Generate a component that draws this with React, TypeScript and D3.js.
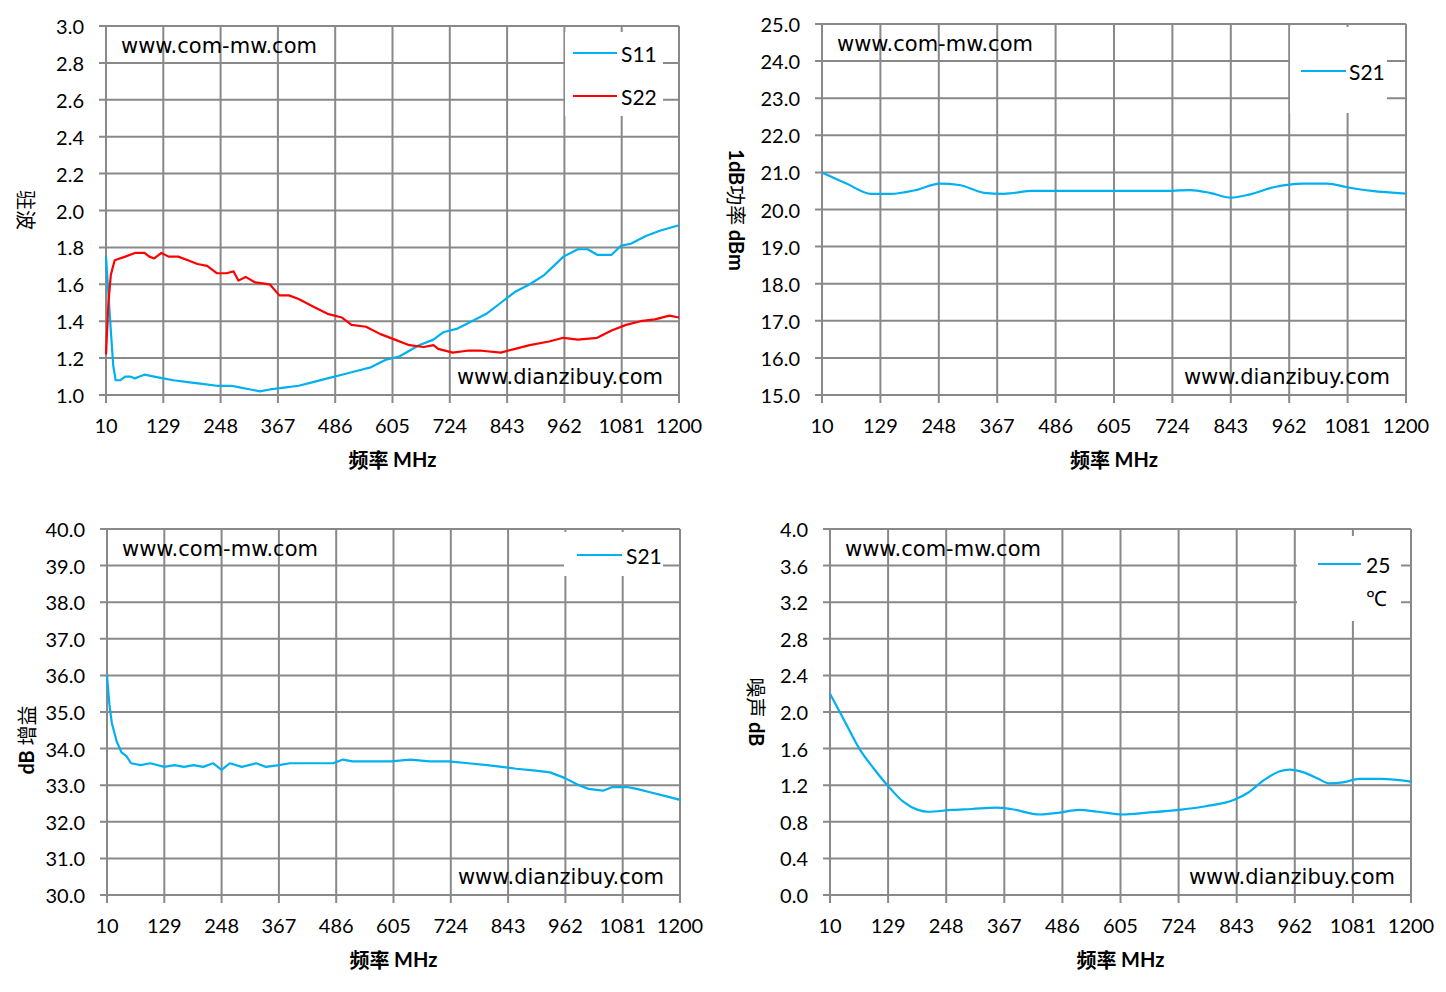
import React from "react";
import * as d3 from "d3";

// frequency axis (MHz)
const freqTicks = [10, 129, 248, 367, 486, 605, 724, 843, 962, 1081, 1200];

// VSWR
const s11Vswr: [number, number][] = [
  [10, 1.75], [15, 1.55], [20, 1.35], [25, 1.16], [30, 1.08], [40, 1.08], [50, 1.1], [60, 1.1],
  [70, 1.09], [80, 1.1], [90, 1.11], [110, 1.1], [129, 1.09], [150, 1.08], [180, 1.07],
  [210, 1.06], [240, 1.05], [270, 1.05], [290, 1.04], [310, 1.03], [330, 1.02], [350, 1.03],
  [380, 1.04], [410, 1.05], [440, 1.07], [470, 1.09], [500, 1.11], [530, 1.13], [560, 1.15],
  [590, 1.19], [620, 1.21], [640, 1.24], [660, 1.27], [690, 1.3], [710, 1.34], [740, 1.36],
  [770, 1.4], [800, 1.44], [830, 1.5], [860, 1.56], [890, 1.6], [920, 1.65], [940, 1.7],
  [960, 1.75], [990, 1.79], [1010, 1.79], [1030, 1.76], [1060, 1.76], [1080, 1.81],
  [1100, 1.82], [1130, 1.86], [1160, 1.89], [1200, 1.92],
];
const s22Vswr: [number, number][] = [
  [10, 1.22], [15, 1.5], [20, 1.65], [28, 1.73], [50, 1.75], [70, 1.77], [90, 1.77],
  [100, 1.75], [110, 1.74], [125, 1.77], [140, 1.75], [160, 1.75], [180, 1.73], [200, 1.71],
  [220, 1.7], [240, 1.66], [260, 1.66], [275, 1.67], [285, 1.62], [300, 1.64], [320, 1.61],
  [350, 1.6], [370, 1.54], [390, 1.54], [410, 1.52], [440, 1.48], [470, 1.44], [500, 1.42],
  [520, 1.38], [550, 1.37], [580, 1.33], [610, 1.3], [640, 1.27], [670, 1.26], [690, 1.27],
  [700, 1.25], [730, 1.23], [760, 1.24], [790, 1.24], [830, 1.23], [860, 1.25], [890, 1.27],
  [930, 1.29], [960, 1.31], [990, 1.3], [1030, 1.31], [1060, 1.35], [1090, 1.38],
  [1120, 1.4], [1150, 1.41], [1180, 1.43], [1200, 1.42],
];

// 1dB compression power (dBm)
const p1dB: [number, number][] = [
  [10, 21.0], [60, 20.7], [110, 20.42], [150, 20.42], [200, 20.52], [250, 20.7], [290, 20.66],
  [340, 20.45], [380, 20.42], [440, 20.5], [500, 20.5], [600, 20.5], [700, 20.5], [760, 20.52],
  [800, 20.45], [843, 20.32], [880, 20.4], [930, 20.6], [990, 20.7], [1040, 20.7],
  [1080, 20.6], [1130, 20.5], [1200, 20.43],
];

// gain S21 (dB)
const gainS21: [number, number][] = [
  [10, 36.0], [15, 35.2], [20, 34.7], [30, 34.2], [40, 33.9], [50, 33.8], [60, 33.6],
  [80, 33.55], [100, 33.6], [129, 33.5], [150, 33.55], [170, 33.5], [190, 33.55], [210, 33.5],
  [230, 33.6], [248, 33.42], [265, 33.6], [290, 33.5], [320, 33.6], [340, 33.5], [367, 33.55],
  [390, 33.6], [420, 33.6], [450, 33.6], [480, 33.6], [500, 33.7], [520, 33.65], [560, 33.65],
  [600, 33.65], [640, 33.7], [680, 33.65], [720, 33.65], [760, 33.6], [800, 33.55],
  [830, 33.5], [860, 33.45], [900, 33.4], [930, 33.35], [960, 33.2], [990, 33.0],
  [1010, 32.9], [1040, 32.85], [1060, 32.95], [1090, 32.95], [1110, 32.9], [1140, 32.8],
  [1170, 32.7], [1200, 32.6],
];

// noise figure at 25 ℃ (dB)
const noise25: [number, number][] = [
  [10, 2.2], [40, 1.9], [70, 1.6], [100, 1.38], [129, 1.19], [160, 1.02], [190, 0.93],
  [210, 0.91], [260, 0.93], [300, 0.94], [350, 0.955], [380, 0.94], [440, 0.88], [480, 0.9],
  [520, 0.93], [560, 0.91], [610, 0.88], [660, 0.9], [724, 0.93], [780, 0.97], [838, 1.04],
  [867, 1.12], [900, 1.26], [930, 1.35], [952, 1.37], [980, 1.34], [1010, 1.27],
  [1033, 1.22], [1060, 1.23], [1094, 1.27], [1140, 1.27], [1200, 1.24],
];

const BLUE = "#00B0F0";
const RED = "#FF0000";
const GRID = "#898989";
const TICK_FONT = "Lato, 'Open Sans', sans-serif";
const MARK_FONT = "'DejaVu Sans', Verdana, sans-serif";
const CJK = "'Noto Sans CJK SC', sans-serif";

type Series = { name: string; color: string; data: [number, number][]; curve: d3.CurveFactory };

type PanelProps = {
  left: number; right: number; top: number; bottom: number;
  yMin: number; yMax: number; yStep: number; yFmt: (v: number) => string;
  series: Series[];
  legend: { x0: number; y0: number; x1: number; y1: number; rows: { y: number; label: string[] }[]; lineX: [number, number]; textX: number };
  yTitle: { x: number; y: number; rot: number; parts: { t: string; bold?: boolean }[] };
};

function Panel(p: PanelProps) {
  const x = d3.scaleLinear().domain([10, 1200]).range([p.left, p.right]);
  const y = d3.scaleLinear().domain([p.yMin, p.yMax]).range([p.bottom, p.top]);
  const n = Math.round((p.yMax - p.yMin) / p.yStep);
  const yTicks = d3.range(n + 1).map(i => p.yMin + i * p.yStep);
  const cx = (p.left + p.right) / 2;

  return (
    <g>
      {/* grid */}
      {yTicks.map(t => (
        <line key={"h" + t} x1={p.left - 7} x2={p.right} y1={y(t)} y2={y(t)} stroke={GRID} strokeWidth={2} />
      ))}
      {freqTicks.map(t => (
        <line key={"v" + t} x1={x(t)} x2={x(t)} y1={p.top} y2={p.bottom + 8} stroke={GRID} strokeWidth={2} />
      ))}
      {/* legend box hides the grid behind it */}
      <rect x={p.legend.x0} y={p.legend.y0} width={p.legend.x1 - p.legend.x0} height={p.legend.y1 - p.legend.y0} fill="#fff" />
      {/* tick labels */}
      {yTicks.map(t => (
        <text key={"yl" + t} x={p.left - 22} y={y(t)} textAnchor="end" dominantBaseline="central"
          fontFamily={TICK_FONT} fontSize={20} fill="#000">{p.yFmt(t)}</text>
      ))}
      {freqTicks.map(t => (
        <text key={"xl" + t} x={x(t)} y={p.bottom + 30} textAnchor="middle" dominantBaseline="central"
          fontFamily={TICK_FONT} fontSize={20} fill="#000">{t}</text>
      ))}
      {/* series */}
      {p.series.map(s => {
        const line = d3.line<[number, number]>().x(d => x(d[0])).y(d => y(d[1])).curve(s.curve);
        return <path key={s.name} d={line(s.data) || ""} fill="none" stroke={s.color} strokeWidth={2.2} strokeLinejoin="round" />;
      })}
      {/* legend entries */}
      {p.legend.rows.map((r, i) => (
        <g key={"lg" + i}>
          <line x1={p.legend.lineX[0]} x2={p.legend.lineX[1]} y1={r.y} y2={r.y} stroke={p.series[i].color} strokeWidth={2.2} />
          {r.label.map((l, j) => (
            <text key={j} x={p.legend.textX} y={r.y + j * 33} dominantBaseline="central"
              fontFamily={TICK_FONT} fontSize={21} fill="#000">{l}</text>
          ))}
        </g>
      ))}
      {/* watermarks */}
      <text x={p.left + 15} y={p.top + 20} dominantBaseline="central" fontFamily={MARK_FONT} fontSize={21} fill="#000">www.com-mw.com</text>
      <text x={p.right - 16} y={p.bottom - 18} textAnchor="end" dominantBaseline="central" fontFamily={MARK_FONT} fontSize={21} fill="#000">www.dianzibuy.com</text>
      {/* axis titles */}
      <text x={cx} y={p.bottom + 64} textAnchor="middle" dominantBaseline="central" fontSize={20} fill="#000">
        <tspan fontFamily={CJK} fontWeight="bold">频率 </tspan>
        <tspan fontFamily={TICK_FONT} fontWeight="bold">MHz</tspan>
      </text>
      <text transform={`translate(${p.yTitle.x},${p.yTitle.y}) rotate(${p.yTitle.rot})`} textAnchor="middle"
        dominantBaseline="central" fontSize={20} fill="#000">
        {p.yTitle.parts.map((pt, i) => (
          <tspan key={i} fontFamily={pt.bold ? TICK_FONT : CJK} fontWeight={pt.bold ? "bold" : "normal"}>{pt.t}</tspan>
        ))}
      </text>
    </g>
  );
}

export default function App() {
  return (
    <svg width={1446} height={992} style={{ position: "absolute", left: 0, top: 0, background: "#fff" }}>
      <rect width={1446} height={992} fill="#fff" />
      <Panel left={106} right={679} top={26} bottom={395} yMin={1} yMax={3} yStep={0.2} yFmt={d3.format(".1f")}
        series={[
          { name: "S11", color: BLUE, data: s11Vswr, curve: d3.curveLinear },
          { name: "S22", color: RED, data: s22Vswr, curve: d3.curveLinear },
        ]}
        legend={{ x0: 565, y0: 32, x1: 663, y1: 116, lineX: [573, 617], textX: 621, rows: [{ y: 53, label: ["S11"] }, { y: 96, label: ["S22"] }] }}
        yTitle={{ x: 27, y: 210, rot: 90, parts: [{ t: "驻波" }] }} />
      <Panel left={822} right={1406} top={24} bottom={395} yMin={15} yMax={25} yStep={1} yFmt={d3.format(".1f")}
        series={[{ name: "S21", color: BLUE, data: p1dB, curve: d3.curveMonotoneX }]}
        legend={{ x0: 1290, y0: 27, x1: 1387, y1: 113, lineX: [1301, 1346], textX: 1349, rows: [{ y: 71, label: ["S21"] }] }}
        yTitle={{ x: 737, y: 210, rot: 90, parts: [{ t: "1dB", bold: true }, { t: "功率 " }, { t: "dBm", bold: true }] }} />
      <Panel left={107} right={680} top={529} bottom={895} yMin={30} yMax={40} yStep={1} yFmt={d3.format(".1f")}
        series={[{ name: "S21", color: BLUE, data: gainS21, curve: d3.curveLinear }]}
        legend={{ x0: 564, y0: 532, x1: 663, y1: 576, lineX: [577, 622], textX: 626, rows: [{ y: 555, label: ["S21"] }] }}
        yTitle={{ x: 26, y: 740, rot: -90, parts: [{ t: "dB ", bold: true }, { t: "增益" }] }} />
      <Panel left={830} right={1411} top={529} bottom={895} yMin={0} yMax={4} yStep={0.4} yFmt={d3.format(".1f")}
        series={[{ name: "25℃", color: BLUE, data: noise25, curve: d3.curveMonotoneX }]}
        legend={{ x0: 1297, y0: 536, x1: 1401, y1: 621, lineX: [1318, 1361], textX: 1366, rows: [{ y: 564, label: ["25", "℃"] }] }}
        yTitle={{ x: 757, y: 712, rot: 90, parts: [{ t: "噪声 " }, { t: "dB", bold: true }] }} />
    </svg>
  );
}
